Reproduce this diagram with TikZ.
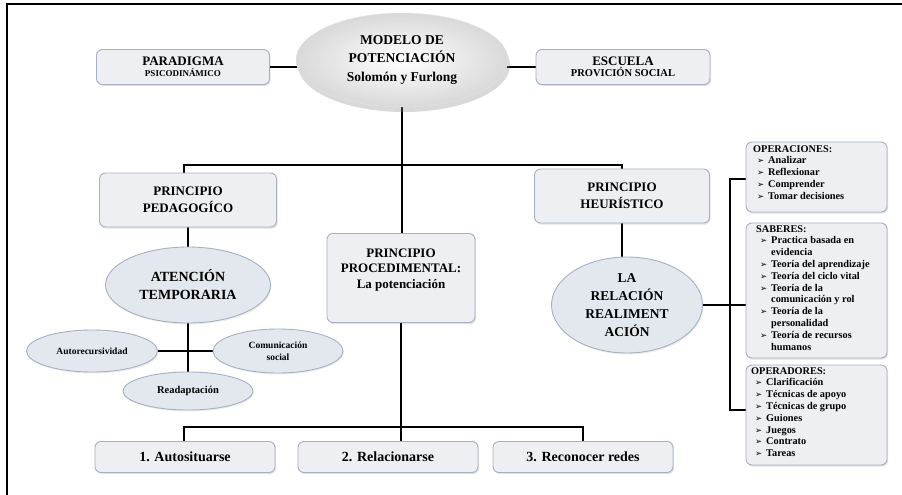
\documentclass[tikz,border=0pt]{standalone}
\usepackage{fontspec}
\setmainfont{Liberation Serif}[BoldFont={Liberation Serif Bold}]
\newfontfamily\dejavu{DejaVu Sans}
\usetikzlibrary{shapes.geometric,shadows,backgrounds}
\definecolor{bfill}{HTML}{EDEFF3}
\definecolor{bdraw}{HTML}{A3B1C2}
\definecolor{efill}{HTML}{E3E8EF}
\newcommand{\fs}[2]{\fontsize{#1}{#2}\selectfont}
\newcommand{\bl}{\hspace*{4pt}\makebox[11pt][l]{\dejavu\fs{8.5}{8.5}➢}}
\newcommand{\cn}{\hspace*{15pt}}
\begin{document}
\begin{tikzpicture}[x=1pt,y=-1pt,
  box/.style={draw=bdraw, line width=0.9pt, fill=bfill, rounded corners=6pt,
    drop shadow={opacity=0.22, shadow xshift=1.2pt, shadow yshift=-1.6pt},
    align=center, font=\bfseries, inner sep=0pt},
  ell/.style={ellipse, draw=bdraw, line width=0.9pt, fill=efill,
    drop shadow={opacity=0.15, shadow xshift=1pt, shadow yshift=-1.5pt},
    align=center, font=\bfseries, inner sep=0pt},
  txt/.style={align=center, font=\bfseries, inner sep=0pt},
  ltxt/.style={align=left, font=\bfseries\fs{10.3}{11.8}, inner sep=0pt, anchor=north west},
  conn/.style={line width=1.8pt, black},
  frame/.style={line width=2pt, black}]
\useasboundingbox (0,0) rectangle (902,495);
\coordinate (f1) at (7,495);
\coordinate (f2) at (7,4);
\coordinate (f3) at (902,4);
\draw[frame] (f1) -- (f2) -- (f3);

% top level
\node[ellipse, minimum width=212pt, minimum height=94pt, inner color=white, outer color=gray!30,
  draw=gray!20, drop shadow={opacity=0.3, shadow xshift=2pt, shadow yshift=-5pt}, txt,
  font=\bfseries\fs{13.5}{18.5}] (main) at (402,60)
  {MODELO DE\\POTENCIACIÓN\\Solomón y Furlong};
\node[box, minimum width=173pt, minimum height=35pt] (para) at (183,67)
  {\fs{13}{14}PARADIGMA\\[-1pt]\fs{9}{10}PSICODINÁMICO};
\node[box, minimum width=174pt, minimum height=35pt] (esc) at (623,67)
  {\fs{13}{14}ESCUELA\\[-1pt]\fs{10.5}{11}PROVICIÓN SOCIAL};

% principles
\node[box, minimum width=177pt, minimum height=54pt, font=\bfseries\fs{13}{17}] (ped) at (188,200)
  {PRINCIPIO\\PEDAGOGÍCO};
\node[box, minimum width=148pt, minimum height=89pt] (proc) at (401,278) {};
\node[txt, font=\bfseries\fs{13}{15.5}] (proct) at (401,270) {PRINCIPIO\\PROCEDIMENTAL:\\La potenciación};
\node[box, minimum width=175pt, minimum height=54pt, font=\bfseries\fs{13}{17.5}] (heu) at (622,196)
  {PRINCIPIO\\HEURÍSTICO};

% ellipses
\node[ell, minimum width=165pt, minimum height=76pt, font=\bfseries\fs{14}{18}] (aten) at (188,285)
  {ATENCIÓN\\TEMPORARIA};
\node[ell, minimum width=151pt, minimum height=96pt, font=\bfseries\fs{13.5}{17.8}] (rel) at (627,305)
  {LA\\RELACIÓN\\REALIMENT\\ACIÓN};
\node[ell, minimum width=131pt, minimum height=42pt, font=\bfseries\fs{9.5}{11}] (auto) at (92,351)
  {Autorecursividad};
\node[ell, minimum width=130pt, minimum height=44pt, font=\bfseries\fs{9.5}{12}] (com) at (278,351)
  {Comunicación\\social};
\node[ell, minimum width=130pt, minimum height=38pt, font=\bfseries\fs{10.5}{12}] (read) at (188,391)
  {Readaptación};

% bottom boxes
\node[box, minimum width=180pt, minimum height=31pt, font=\bfseries\fs{14}{16}] (a1) at (185,457) {1. Autosituarse};
\node[box, minimum width=180pt, minimum height=31pt, font=\bfseries\fs{14}{16}] (a2) at (388,457) {2. Relacionarse};
\node[box, minimum width=180pt, minimum height=31pt, font=\bfseries\fs{14}{16}] (a3) at (583,457) {3. Reconocer redes};

% right boxes
\node[box, minimum width=141pt, minimum height=70pt] (opc) at (816.5,177) {};
\node[box, minimum width=141pt, minimum height=135pt] (sab) at (816.5,290.5) {};
\node[box, minimum width=141pt, minimum height=100pt] (oper) at (816.5,415) {};
\node[ltxt] (opct) at (753,145) {OPERACIONES:\\\bl Analizar\\\bl Reflexionar\\\bl Comprender\\\bl Tomar decisiones};
\node[ltxt] (sabt) at (756,225) {SABERES:\\\bl Practica basada en\\\cn evidencia\\\bl Teoría del aprendizaje\\\bl Teoría del ciclo vital\\\bl Teoría de la\\\cn comunicación y rol\\\bl Teoría de la\\\cn personalidad\\\bl Teoría de recursos\\\cn humanos};
\node[ltxt] (opert) at (751,367) {OPERADORES:\\\bl Clarificación\\\bl Técnicas de apoyo\\\bl Técnicas de grupo\\\bl Guiones\\\bl Juegos\\\bl Contrato\\\bl Tareas};

% junction coordinates
\coordinate (t1) at (184,165);
\coordinate (t2) at (622,165);
\coordinate (hb1) at (184,427);
\coordinate (hb2) at (583,427);
\coordinate (b1) at (730,179);
\coordinate (b3) at (730,410);

\begin{scope}[on background layer]
\draw[conn] (para.east) -- (para.east -| main.center);
\draw[conn] (esc.west) -- (esc.west -| main.center);
\draw[conn] (main.center) -- (main.center |- proc.north);
\draw[conn] (ped.north -| t1) -- (t1) -- (t2) -- (heu.north -| t2);
\draw[conn] (ped.south) -- (aten.north);
\draw[conn] (aten.south) -- (read.north);
\draw[conn] (auto.east) -- (com.west);
\draw[conn] (heu.south) -- (heu.south |- rel.center);
\draw[conn] (rel.east) -- (rel.east -| sab.west);
\draw[conn] (b1 -| opc.west) -- (b1) -- (b3) -- (b3 -| oper.west);
\draw[conn] (proc.south) -- (proc.south |- a2.north);
\draw[conn] (a1.north -| hb1) -- (hb1) -- (hb2) -- (a3.north -| hb2);
\end{scope}
\end{tikzpicture}
\end{document}
